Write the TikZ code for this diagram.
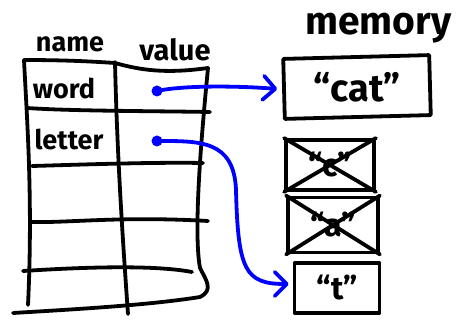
\documentclass[tikz,border=0pt]{standalone}
\usepackage{fontspec}
\setmainfont{Fira Sans}
\usetikzlibrary{arrows.meta,calc}
\definecolor{pen}{RGB}{0,0,0}
\definecolor{ink}{RGB}{0,0,255}
\tikzset{
  stroke/.style={draw=pen, line width=3.8pt, line cap=round, line join=round},
  label/.style={inner sep=0pt, font=\bfseries\fontsize{#1}{#1}\selectfont},
  cell/.style={stroke, rectangle, minimum width=#1, inner sep=0pt},
  pointer/.style={draw=ink, line width=3.8pt, line cap=round,
    -{Straight Barb[length=12pt,width=24pt,line cap=round,line join=round]}},
  dot/.style={circle, fill=ink, minimum size=11pt, inner sep=0pt},
}
\begin{document}
\begin{tikzpicture}[x=1pt,y=-1pt]
\useasboundingbox (0,0) rectangle (464,320);

% variable table
\draw[stroke] (24,60) .. controls (70,60) and (100,62) .. (115,63)
  .. controls (140,70) and (165,74) .. (208,68);
\draw[stroke] (24,60) .. controls (27,120) and (33,200) .. (28,305);
\draw[stroke] (115,62) .. controls (117,150) and (122,230) .. (128,314);
\draw[stroke] (208,68) .. controls (202,130) and (193,230) .. (200,268)
  .. controls (206,280) and (214,290) .. (200,297)
  .. controls (150,305) and (80,309) .. (13,313);
\draw[stroke] (27,108) .. controls (70,111) and (150,111) .. (210,112);
\draw[stroke] (32,166) .. controls (70,165) and (150,162) .. (203,163);
\draw[stroke] (30,222) .. controls (70,223) and (120,216) .. (208,221);
\draw[stroke] (23,271) .. controls (70,268) and (150,264) .. (192,272);

% column headings and names
\node[label=27] (name) at (70,44) {name};
\node[label=29] (value) at (175,50) {value};
\node[label=27] (word) at (64,88) {word};
\node[label=27] (letter) at (69,139) {letter};
\node[label=39, anchor=west] (memory) at (305,28) {memory};

% memory cells
\node[cell=146pt, minimum height=60pt, rotate=1.5] (cat) at (357,87) {};
\node[label=38] (catval) at (cat.center) {``cat''};
\node[cell=88pt, minimum height=50pt] (c) at (330,165) {};
\node[label=32] (cval) at (c.center) {``c''};
\draw[stroke] (c.north west) -- (c.south east);
\draw[stroke] (c.north east) -- (c.south west);
\node[cell=90pt, minimum height=55pt] (a) at (333,225) {};
\node[label=32] (aval) at (a.center) {``a''};
\draw[stroke] (a.north west) -- (a.south east);
\draw[stroke] (a.north east) -- (a.south west);
\node[cell=85pt, minimum height=50pt] (t) at (337,288) {};
\node[label=32] (tval) at (t.center) {``t''};

% references from the value column
\node[dot] (p1) at (157,91) {};
\node[dot] (p2) at (157,141) {};
\coordinate (tip1) at ($(cat.west)+(-5,0)$);
\coordinate (tip2) at ($(t.west)+(-4,-4)$);
\draw[pointer] (p1.center) .. controls (185,85) and (240,86) .. (tip1);
\draw[pointer] (p2.center) .. controls (200,141) and (234,140) .. (236,190)
  .. controls (238,270) and (245,284) .. (tip2);
\end{tikzpicture}
\end{document}
